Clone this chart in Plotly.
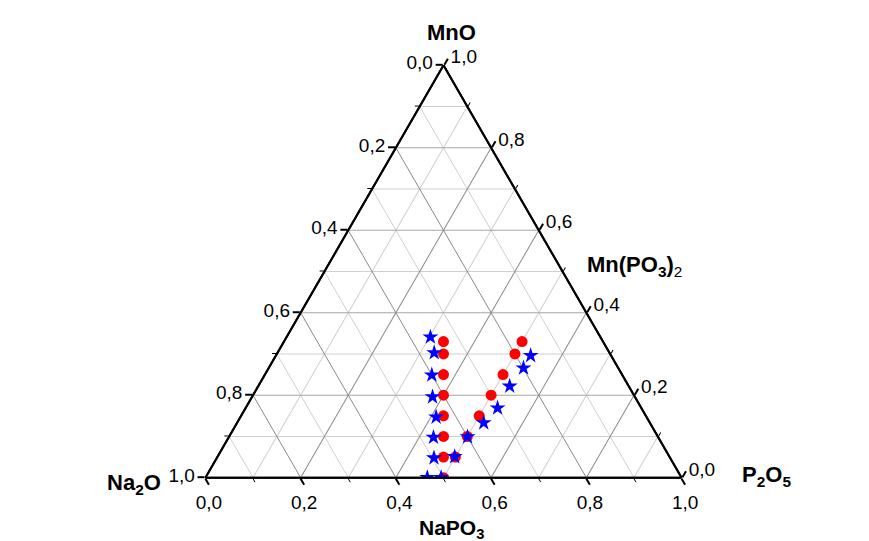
import plotly.graph_objects as go

# ---------------- data (mole fractions) ----------------
# Series 1 (red circles)
red_mno  = [0.33, 0.30, 0.25, 0.20, 0.15, 0.10, 0.05, 0.00,
            0.05, 0.10, 0.15, 0.20, 0.25, 0.30, 0.33]
red_na2o = [0.335, 0.35, 0.375, 0.40, 0.425, 0.45, 0.475, 0.50,
            0.45, 0.40, 0.35, 0.30, 0.25, 0.20, 0.17]
red_p2o5 = [0.335, 0.35, 0.375, 0.40, 0.425, 0.45, 0.475, 0.50,
            0.50, 0.50, 0.50, 0.50, 0.50, 0.50, 0.50]

# Series 2 (blue stars)
blue_mno  = [0.341, 0.303, 0.249, 0.196, 0.147, 0.098, 0.048, 0.000, 0.000,
             0.051, 0.099, 0.133, 0.169, 0.222, 0.266, 0.296]
blue_na2o = [0.357, 0.368, 0.400, 0.425, 0.442, 0.472, 0.496, 0.534, 0.505,
             0.451, 0.400, 0.349, 0.302, 0.250, 0.199, 0.169]
blue_p2o5 = [0.302, 0.329, 0.351, 0.379, 0.411, 0.430, 0.456, 0.466, 0.495,
             0.498, 0.501, 0.518, 0.529, 0.528, 0.535, 0.535]

major_vals = [0.0, 0.2, 0.4, 0.6, 0.8, 1.0]
major_text = ["1,0", "0,8", "0,6", "0,4", "0,2", "0,0"]
minor_vals = [0.1, 0.3, 0.5, 0.7, 0.9]

W, H = 869, 541
FONT = "Liberation Sans, Arial, Helvetica, sans-serif"

# triangle placement (pixels)
top_y, bot_y, cx = 64.3, 476.7, 443.5
side = (bot_y - top_y) * 2 / 3 ** 0.5
sx, sy = -8, -7   # compensation for plotly's internal offset
dom = dict(x=[(cx + sx - side / 2) / W, (cx + sx + side / 2) / W],
           y=[(H - bot_y - sy) / H, (H - top_y - sy) / H])


def minor_axis():
    return dict(tickmode="array", tickvals=minor_vals, showticklabels=False,
                title=dict(text=""),
                ticks="outside", ticklen=4, tickwidth=1.3, tickcolor="black",
                showgrid=True, gridcolor="#cfcfcf", gridwidth=1,
                showline=True, linecolor="black", linewidth=2)


def major_axis(gc):
    return dict(tickmode="array", tickvals=major_vals, ticktext=major_text,
                title=dict(text=""),
                showticklabels=True, ticks="outside", ticklen=7, tickwidth=1.5,
                tickcolor="black", tickfont=dict(family=FONT, size=19, color="black"),
                showgrid=True, gridcolor=gc, gridwidth=1,
                showline=True, linecolor="black", linewidth=2)


fig = go.Figure()
fig.add_trace(go.Scatterternary(a=[], b=[], c=[], subplot="ternary",
                                mode="markers", showlegend=False))
fig.add_trace(go.Scatterternary(
    a=red_mno, b=red_na2o, c=red_p2o5, subplot="ternary2", mode="markers",
    marker=dict(symbol="circle", size=11, color="#ff0000",
                line=dict(width=0)),
    name="series 1", showlegend=False))
fig.add_trace(go.Scatterternary(
    a=blue_mno, b=blue_na2o, c=blue_p2o5, subplot="ternary2", mode="markers",
    marker=dict(symbol="star", size=12, color="#0000ff",
                line=dict(width=0)),
    name="series 2", showlegend=False))

fig.update_layout(
    width=W, height=H, margin=dict(l=0, r=0, t=0, b=0),
    paper_bgcolor="white", showlegend=False, hovermode=False,
    font=dict(family=FONT, size=19, color="black"),
    ternary=dict(domain=dom, sum=1, bgcolor="white",
                 aaxis=minor_axis(), baxis=minor_axis(), caxis=minor_axis()),
    ternary2=dict(domain=dom, sum=1, bgcolor="rgba(0,0,0,0)",
                  aaxis=major_axis("#a6a6a6"), baxis=major_axis("#8a8a8a"),
                  caxis=major_axis("#8a8a8a")),
)


def label(text, px, py, xanchor="center", size=22):
    fig.add_annotation(text=text, x=px / W, y=1 - py / H, xref="paper",
                       yref="paper", showarrow=False, xanchor=xanchor,
                       yanchor="middle",
                       font=dict(family=FONT, size=size, color="black"))


label("<b>MnO</b>", cx, 24)
label("<b>Na<sub>2</sub>O</b>", cx - side / 2 - 50, 476, xanchor="right")
label("<b>P<sub>2</sub>O<sub>5</sub></b>", cx + side / 2 + 50, 468, xanchor="left")
label("<b>NaPO<sub>3</sub></b>", cx, 521, size=21)
label("<b>Mn(PO<sub>3</sub>)</b><sub>2</sub>", cx + side / 4 + 14, 258, xanchor="left")

fig.write_html("out.html")
